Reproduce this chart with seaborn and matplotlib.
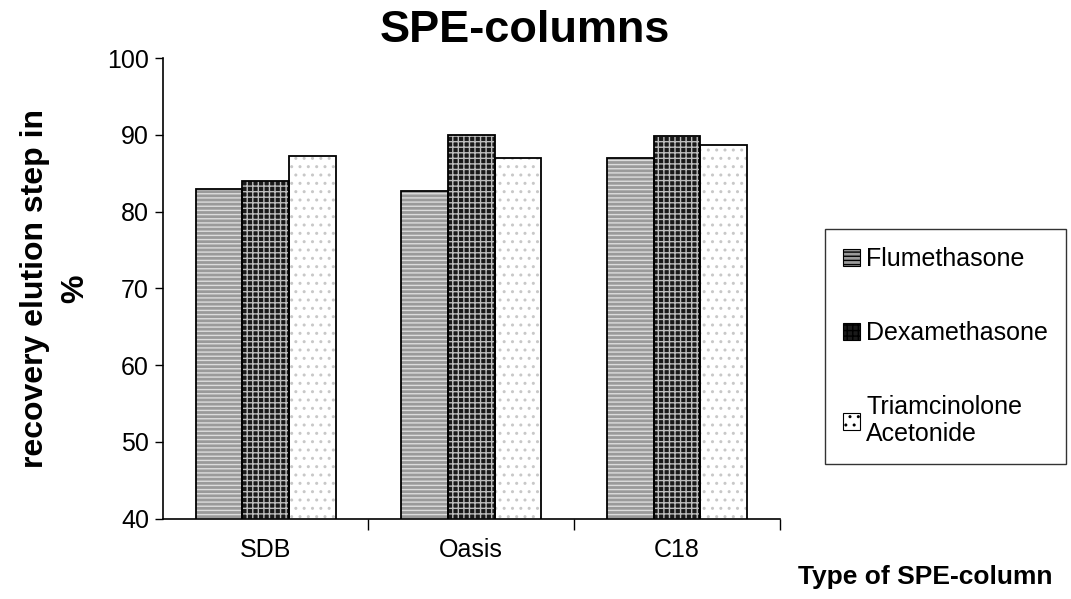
import matplotlib
matplotlib.use("Agg")
import matplotlib.pyplot as plt
import seaborn as sns
import pandas as pd
from matplotlib.patches import Rectangle, Patch

columns = ["SDB", "Oasis", "C18"]
compounds = ["Flumethasone", "Dexamethasone", "Triamcinolone\nAcetonide"]
flumethasone = [83.0, 82.7, 87.0]
dexamethasone = [84.0, 90.0, 89.8]
triamcinolone = [87.2, 87.0, 88.7]

rows = []
for name, vals in zip(compounds, [flumethasone, dexamethasone, triamcinolone]):
    for c, v in zip(columns, vals):
        rows.append({"column": c, "compound": name, "value": v})
df = pd.DataFrame(rows)

sns.set_theme(style="white")
plt.rcParams['font.family'] = ['Liberation Sans', 'DejaVu Sans']
plt.rcParams['hatch.linewidth'] = 1.0
for k in ['text.color', 'axes.labelcolor', 'xtick.color', 'ytick.color']:
    plt.rcParams[k] = 'black'

fig = plt.figure(figsize=(10.71, 5.99), dpi=100)
ax = fig.add_axes([0.152, 0.134, 0.576, 0.769])

face = {compounds[0]: "#9a9a9a", compounds[1]: "#1a1a1a", compounds[2]: "#ffffff"}
hatchc = {compounds[0]: "#dcdcdc", compounds[1]: "#bdbdbd", compounds[2]: "#c8c8c8"}
hatches = {compounds[0]: "----", compounds[1]: "+++", compounds[2]: ".."}

sns.barplot(data=df, x="column", y="value", hue="compound", order=columns,
            hue_order=compounds, palette=face, width=0.68, gap=0,
            legend=False, ax=ax, saturation=1)

for cont, name in zip(ax.containers, compounds):
    for bar in cont:
        bar.set_hatch(hatches[name])
        bar.set_edgecolor(hatchc[name])
        bar.set_linewidth(0)
        outline = Rectangle((bar.get_x(), bar.get_y()), bar.get_width(), bar.get_height(),
                            fill=False, edgecolor="black", linewidth=1.3, zorder=3)
        ax.add_patch(outline)

ax.set_ylim(40, 100)
ax.set_xlim(-0.5, len(columns) - 0.5)
ax.set_yticks(range(40, 101, 10))
ax.tick_params(axis='y', labelsize=18, length=6, width=1, direction='out', left=True, pad=4)
ax.set_xticks(range(len(columns)))
ax.set_xticklabels(columns, fontsize=18)
ax.tick_params(axis='x', length=0, pad=14)
ax.set_xticks([i + 0.5 for i in range(len(columns))], minor=True)
ax.tick_params(axis='x', which='minor', length=8, width=1, direction='out', bottom=True)

for s in ["top", "right"]:
    ax.spines[s].set_visible(False)
for s in ["left", "bottom"]:
    ax.spines[s].set_color("black")
    ax.spines[s].set_linewidth(1.2)

ax.set_xlabel("")
ax.set_ylabel("recovery elution step in\n%", fontsize=23, fontweight="bold", labelpad=12,
              linespacing=1.45)
fig.text(0.49, 0.915, "SPE-columns", fontsize=32.5, fontweight="bold", ha="center", va="bottom")
fig.text(0.864, 0.025, "Type of SPE-column", fontsize=19, fontweight="bold", ha="center")

handles = [Patch(facecolor=face[n], edgecolor="black", hatch=hatches[n], linewidth=0.8) for n in compounds]
leg = fig.legend(handles, compounds, loc="upper left", bbox_to_anchor=(0.770, 0.617),
                 fontsize=18, frameon=True, fancybox=False, edgecolor="black",
                 labelspacing=2.0, handlelength=0.7, handleheight=0.7, handletextpad=0.25,
                 borderpad=0.72, borderaxespad=0)
leg.get_frame().set_linewidth(1.0)
for t in leg.get_texts():
    t.set_linespacing(1.15)

fig.savefig("out.png", dpi=100)
